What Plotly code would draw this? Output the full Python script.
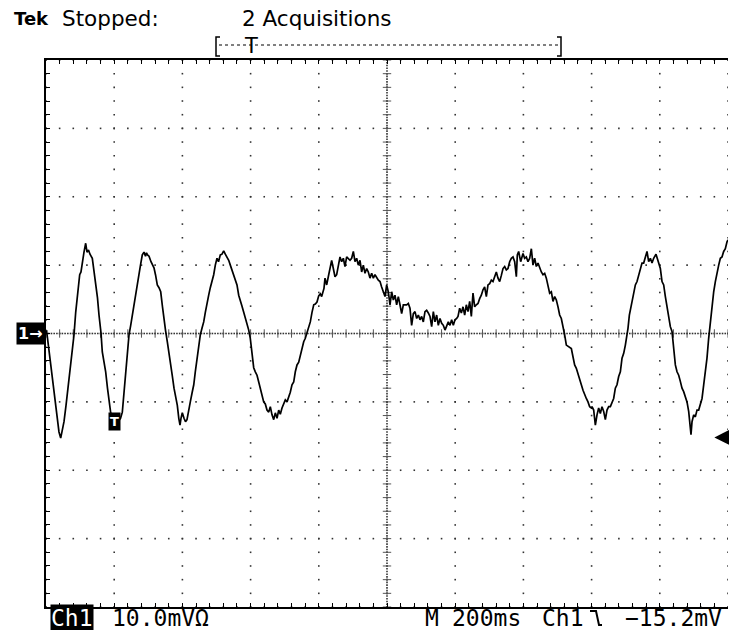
import numpy as np
import plotly.graph_objects as go

# ---- acquired waveform, channel 1 (time in ms relative to trigger, level in mV) ----
t_ms = [
    -198.5, -188.3, -176.5, -167.7, -161.9, -156.9, -151.6, -147.2, -141.3, -135.5,
    -127.6, -122.3, -117.9, -112.9, -108.2, -101.2, -97.4, -93.5, -88.6, -83.6,
    -79.8, -75.4, -71.0, -64.2, -59.2, -54.3, -49.0, -44.6, -38.7, -34.9,
    -29.9, -25.0, -19.7, -15.2, -10.3, -5.0, 2.3, 11.1, 18.5, 23.8,
    28.7, 33.7, 39.0, 43.4, 48.4, 53.1, 58.1, 63.1, 68.3, 72.7,
    77.1, 82.4, 84.5, 87.4, 91.8, 94.7, 97.7, 102.1, 107.9, 116.7,
    121.1, 126.4, 131.4, 136.4, 141.6, 146.0, 150.4, 155.7, 160.7, 165.7,
    170.4, 175.4, 180.4, 185.1, 189.4, 193.0, 195.9, 199.7, 204.7, 209.1,
    213.5, 217.9, 223.2, 228.3, 233.3, 237.8, 242.8, 247.2, 252.5, 257.6,
    262.5, 267.2, 272.2, 277.1, 281.8, 286.8, 291.8, 296.5, 301.5, 305.9,
    311.2, 316.1, 321.1, 325.8, 330.8, 335.8, 340.5, 345.6, 350.5, 355.2,
    360.1, 365.1, 369.8, 374.8, 379.8, 384.5, 389.5, 394.5, 399.1, 404.1,
    409.1, 413.8, 418.8, 423.8, 428.5, 433.4, 438.4, 443.1, 448.1, 453.1,
    457.8, 462.8, 467.8, 472.5, 477.5, 482.4, 487.1, 492.1, 497.1, 501.8,
    506.8, 511.7, 516.4, 521.4, 526.4, 531.1, 536.1, 541.1, 545.8, 550.7,
    555.7, 560.4, 565.4, 570.4, 575.1, 580.1, 585.1, 589.8, 594.7, 599.7,
    604.4,
    608.4, 615.2, 618.2, 623.1, 627.9, 632.8, 637.7, 642.6, 647.5, 652.4,
    657.3, 662.2, 667.0, 671.9, 676.8, 681.7, 691.5, 696.4, 701.3, 706.1,
    711.0, 715.9, 720.8, 725.7, 730.6, 735.5, 740.4, 745.2, 750.1, 755.0,
    759.9, 764.8, 774.6, 779.5, 784.3, 789.2, 794.1, 799.0, 803.9, 808.8,
    813.7, 818.6, 823.4, 828.3, 833.2, 838.1, 843.0, 847.9, 857.7, 862.5,
    867.4, 872.3, 877.2, 882.1, 887.0, 891.9, 896.8, 901.6, 906.5, 911.4,
    916.3, 921.2, 926.1, 931.0, 935.9, 940.7, 945.6, 950.5, 955.4, 960.3,
    965.2, 970.1, 975.0, 979.8, 984.7, 989.6, 994.5, 999.4, 1004.3,
    1008.2, 1013.1, 1018.0, 1022.9, 1027.8, 1032.6, 1037.5, 1042.4, 1047.3, 1052.2,
    1057.1, 1062.0, 1066.9, 1071.7, 1076.6, 1081.5, 1086.4, 1091.3, 1096.2, 1101.1,
    1106.0, 1110.8, 1115.7, 1120.6, 1125.5, 1130.4, 1135.3, 1140.2, 1145.1, 1149.9,
    1154.8, 1159.7, 1164.6, 1169.5, 1174.4, 1179.3, 1182.2, 1186.1, 1192.0, 1198.8,
    1203.7, 1208.6, 1213.5, 1218.4, 1223.3, 1228.1, 1233.0, 1237.9, 1242.8, 1247.7,
    1252.6, 1257.5, 1262.4, 1267.2, 1272.1, 1277.0, 1281.9, 1286.8, 1291.7, 1296.6,
    1301.5, 1306.3, 1311.2, 1316.1, 1321.0, 1325.9, 1330.8, 1340.6, 1345.4, 1350.3,
    1355.2, 1360.1, 1365.0, 1369.9, 1374.8, 1379.7, 1384.5, 1389.4, 1394.3, 1399.2,
    1401.2, 1406.1, 1411.0, 1415.9, 1420.7, 1425.6, 1430.5, 1435.4, 1440.3, 1445.2,
    1450.1, 1455.0, 1459.9, 1464.7, 1469.6, 1474.5, 1479.4, 1484.3, 1489.2, 1494.1,
    1499.0, 1503.8, 1506.8, 1510.7, 1516.5, 1523.4, 1528.3, 1533.2, 1538.1, 1542.9,
    1547.8, 1552.7, 1557.6, 1562.5, 1567.4, 1572.3, 1577.2, 1582.0, 1588.9, 1594.7,
    1601.6, 1606.5, 1611.4, 1616.3, 1621.1, 1626.0, 1630.9, 1635.8, 1640.7, 1645.6,
    1650.5, 1655.4, 1660.2, 1665.1, 1670.0, 1674.9, 1679.8, 1684.7, 1687.6, 1691.5,
    1694.5, 1699.3, 1704.2, 1709.1, 1714.0, 1718.9, 1723.8, 1728.7, 1733.6, 1738.4,
    1743.3, 1748.2, 1753.1, 1758.0, 1762.9, 1767.8, 1772.7, 1777.5, 1782.4, 1787.3,
    1792.2, 1797.1, 1800.0,
]
v_mV = [
    0.5, -3.9, -9.0, -12.6, -14.4, -15.3, -13.8, -12.9, -10.5, -8.0,
    -4.6, -2.4, -0.2, 3.1, 5.6, 8.6, 9.0, 10.5, 11.9, 13.2,
    11.9, 12.2, 11.6, 11.0, 9.3, 7.5, 5.2, 2.7, 0.1, -2.7,
    -4.2, -5.6, -8.0, -10.0, -11.6, -12.6, -13.1, -12.9, -12.4, -11.5,
    -8.6, -5.6, -2.7, -0.2, 1.2, 2.7, 4.3, 6.1, 7.4, 8.6,
    10.0, 11.5, 11.8, 11.9, 11.3, 11.8, 11.5, 11.3, 10.5, 9.6,
    8.6, 7.1, 6.7, 6.1, 3.9, 1.7, 0.5, -1.2, -2.7, -4.6,
    -6.2, -8.0, -9.1, -10.5, -12.4, -13.4, -12.4, -11.6, -12.4, -12.9,
    -12.6, -11.2, -10.0, -8.7, -7.5, -5.6, -3.6, -2.0, -0.2, 0.8,
    1.7, 3.1, 4.6, 5.6, 6.7, 7.5, 8.6, 10.0, 11.0, 10.5,
    11.5, 11.6, 12.1, 11.6, 11.2, 10.7, 10.0, 9.3, 8.6, 8.0,
    7.1, 5.6, 4.6, 4.0, 3.1, 2.3, 1.2, 0.5, -0.7, -2.7,
    -5.0, -5.6, -6.1, -7.1, -8.0, -9.1, -10.0, -10.3, -11.2, -11.5,
    -10.7, -11.9, -12.6, -11.6, -12.4, -11.2, -11.8, -10.9, -10.4, -9.7,
    -10.0, -9.4, -8.6, -7.5, -7.1, -5.6, -4.6, -4.2, -3.1, -2.4,
    -1.2, -0.7, 0.2, 1.1, 1.7, 3.1, 4.2, 4.3, 4.6, 5.5,
    5.8,
    5.4, 6.6, 8.1, 7.1, 8.3, 9.8, 10.7, 9.5, 8.3, 8.6,
    9.8, 11.2, 10.5, 11.0, 9.8, 11.2, 10.7, 11.0, 12.0, 10.5,
    11.0, 10.0, 10.7, 9.0, 10.0, 8.8, 9.5, 9.0, 8.1, 8.8,
    8.1, 8.6, 7.8, 7.6, 6.8, 6.1, 5.4, 7.1, 6.1, 4.2,
    6.1, 4.9, 5.6, 4.2, 5.4, 4.2, 2.9, 4.2, 4.2, 4.4,
    3.7, 1.2, 2.9, 3.2, 2.2, 2.7, 2.0, 2.5, 1.7, 3.2,
    3.4, 3.0, 2.5, 1.0, 3.2, 1.7, 2.7, 1.2, 2.2, 1.5,
    1.2, 0.5, 1.0, 1.7, 1.2, 2.0, 1.2, 2.0, 2.2,
    2.5, 3.7, 3.0, 3.9, 2.7, 4.2, 3.2, 4.7, 2.5, 5.9,
    3.9, 4.2, 4.4, 5.1, 5.6, 6.4, 6.8, 5.4, 7.1, 7.3,
    7.8, 7.6, 8.5, 9.0, 8.1, 7.6, 8.5, 9.5, 9.8, 9.3,
    9.5, 10.5, 11.0, 11.2, 10.5, 8.3, 11.5, 12.0, 10.5, 11.7,
    11.0, 11.2, 10.5, 11.0, 12.4, 10.0, 11.0, 9.8, 10.3, 9.5,
    9.0, 8.6, 8.8, 8.1, 7.1, 5.9, 6.1, 4.7, 5.4, 4.9,
    3.9, 2.7, 2.2, 1.2, -0.2, -1.7, -1.9, -2.2, -3.4, -4.6,
    -5.1, -5.8, -6.6, -7.5, -8.3, -9.0, -9.5, -10.0, -10.7, -10.9,
    -10.7, -11.2, -13.4, -11.9, -10.9, -11.7, -10.7, -11.4, -12.6, -11.2,
    -10.7, -10.7, -10.0, -9.5, -8.0, -7.5, -6.3, -5.6, -3.6, -2.9,
    -1.7, -0.5, 0.8, 2.7, 4.2, 5.9, 7.1, 7.6, 8.6, 9.3,
    10.3, 10.3, 11.2, 12.0, 10.5, 11.0, 10.3, 11.0, 11.6, 10.5,
    9.5, 7.6, 7.1, 5.4, 3.9, 2.2, 1.0, 0.3, -2.2, -4.6,
    -5.6, -6.1, -7.0, -8.0, -8.5, -9.2, -10.0, -11.4, -12.6, -14.8,
    -12.9, -11.9, -12.2, -11.2, -11.2, -10.5, -9.5, -7.5, -5.6, -3.6,
    -0.7, 1.7, 3.7, 6.1, 7.6, 9.0, 10.0, 11.0, 11.2, 12.0,
    12.4, 13.4, 13.7,
]
assert len(t_ms) == len(v_mV)

# ---- scope settings ----
mv_per_div = 10.0
ms_per_div = 200.0
trigger_time = 0.0
trigger_level = -15.2
h_divs, v_divs = 10, 8
x_min = -ms_per_div            # trigger sits one division from the left
x_max = x_min + h_divs * ms_per_div
y_min = -v_divs / 2 * mv_per_div
y_max = v_divs / 2 * mv_per_div
x_mid = (x_min + x_max) / 2
y_mid = 0.0

W, H = 729, 630
ML, MR, MT, MB = 46, 1, 60, 23
PW, PH = W - ML - MR, H - MT - MB


def px(x):
    """pixel column -> paper x"""
    return (x - ML) / PW


def py(y):
    """pixel row -> paper y"""
    return (H - MB - y) / PH


fig = go.Figure()

# ---- graticule: dotted division lines ----
major_x = np.linspace(x_min, x_max, h_divs + 1)
major_y = np.linspace(y_min, y_max, v_divs + 1)
minor_x = np.linspace(x_min, x_max, h_divs * 5 + 1)
minor_y = np.linspace(y_min, y_max, v_divs * 5 + 1)
fine_x = np.linspace(x_min, x_max, h_divs * 25 + 1)
fine_y = np.linspace(y_min, y_max, v_divs * 25 + 1)

gx, gy = [], []
for xv in major_x:
    gx += list(np.full(len(minor_y), xv)); gy += list(minor_y)
for yv in major_y:
    gx += list(minor_x); gy += list(np.full(len(minor_x), yv))
# centre crosshair: finer dotting
gx += list(np.full(len(fine_y), x_mid)); gy += list(fine_y)
gx += list(fine_x); gy += list(np.full(len(fine_x), y_mid))

fig.add_trace(go.Scatter(
    x=gx, y=gy, mode="markers", hoverinfo="skip", showlegend=False,
    marker=dict(symbol="square", size=1.6, color="#333333", line=dict(width=0)),
))
# crosshair minor ticks
fig.add_trace(go.Scatter(
    x=list(minor_x), y=[y_mid] * len(minor_x), mode="markers", hoverinfo="skip",
    showlegend=False,
    marker=dict(symbol="line-ns", size=6, line=dict(width=1, color="#555555")),
))
fig.add_trace(go.Scatter(
    x=[x_mid] * len(minor_y), y=list(minor_y), mode="markers", hoverinfo="skip",
    showlegend=False,
    marker=dict(symbol="line-ew", size=6, line=dict(width=1, color="#555555")),
))

# ---- channel 1 trace ----
fig.add_trace(go.Scatter(
    x=t_ms, y=v_mV, mode="lines", showlegend=False,
    line=dict(color="black", width=1.7),
))

mono = "DejaVu Sans Mono"
sans = "DejaVu Sans"
ann = []

# header
ann.append(dict(text="<b>Tek</b>", x=px(12), y=py(18), xref="paper", yref="paper",
                xanchor="left", yanchor="middle", showarrow=False,
                font=dict(family=sans, size=18, color="black")))
ann.append(dict(text="Stopped:", x=px(60), y=py(18), xref="paper", yref="paper",
                xanchor="left", yanchor="middle", showarrow=False,
                font=dict(family=sans, size=21.5, color="black")))
ann.append(dict(text="2 Acquisitions", x=px(240), y=py(18), xref="paper", yref="paper",
                xanchor="left", yanchor="middle", showarrow=False,
                font=dict(family=sans, size=21.5, color="black")))
ann.append(dict(text="T", x=px(250.5), y=py(46), xref="paper", yref="paper",
                xanchor="center", yanchor="middle", showarrow=False,
                font=dict(family=sans, size=21, color="black")))

# channel ground marker
ann.append(dict(text="<b>1→</b>", x=px(16), y=y_mid, xref="paper", yref="y",
                xanchor="left", yanchor="middle", showarrow=False, bgcolor="black",
                borderpad=1, font=dict(family=sans, size=16, color="white")))
# trigger point marker on the trace
ann.append(dict(text="<b>T</b>", x=trigger_time, y=-12.9, xref="x", yref="y",
                xanchor="center", yanchor="middle", showarrow=False, bgcolor="black",
                borderpad=1, font=dict(family=sans, size=13, color="white")))
# trigger level arrow on the right edge
ann.append(dict(text="", x=x_max - 0.2 * ms_per_div, y=trigger_level,
                ax=x_max + 0.02 * ms_per_div, ay=trigger_level,
                xref="x", yref="y", axref="x", ayref="y",
                showarrow=True, arrowhead=2, arrowsize=1.5, arrowwidth=2,
                arrowcolor="black"))

# footer readouts
ann.append(dict(text="Ch1", x=px(50), y=py(618), xref="paper", yref="paper",
                xanchor="left", yanchor="middle", showarrow=False, bgcolor="black",
                borderpad=0, font=dict(family=mono, size=23, color="white")))
ann.append(dict(text=f"{mv_per_div:.1f}mVΩ", x=px(110), y=py(618), xref="paper",
                yref="paper", xanchor="left", yanchor="middle", showarrow=False,
                font=dict(family=mono, size=23, color="black")))
ann.append(dict(text="M", x=px(423), y=py(618), xref="paper", yref="paper",
                xanchor="left", yanchor="middle", showarrow=False,
                font=dict(family=mono, size=23, color="black")))
ann.append(dict(text=f"{ms_per_div:.0f}ms", x=px(450), y=py(618), xref="paper",
                yref="paper", xanchor="left", yanchor="middle", showarrow=False,
                font=dict(family=mono, size=23, color="black")))
ann.append(dict(text="Ch1", x=px(540), y=py(618), xref="paper", yref="paper",
                xanchor="left", yanchor="middle", showarrow=False,
                font=dict(family=mono, size=23, color="black")))
ann.append(dict(text=f"\u2212{abs(trigger_level):.1f}mV", x=px(623), y=py(618),
                xref="paper", yref="paper", xanchor="left", yanchor="middle",
                showarrow=False, font=dict(family=mono, size=23, color="black")))

shapes = []
# record-position bracket
br_y0, br_y1, br_mid = 37, 56, 45
for xb, stub in ((216, 4), (561, -4)):
    shapes.append(dict(type="path", xref="paper", yref="paper",
                       path=f"M {px(xb + stub)},{py(br_y0)} L {px(xb)},{py(br_y0)} "
                            f"L {px(xb)},{py(br_y1)} L {px(xb + stub)},{py(br_y1)}",
                       line=dict(color="black", width=1.5)))
shapes.append(dict(type="line", xref="paper", yref="paper",
                   x0=px(219), x1=px(558), y0=py(br_mid), y1=py(br_mid),
                   line=dict(color="black", width=1, dash="dot")))
# falling-edge trigger slope glyph
shapes.append(dict(type="path", xref="paper", yref="paper",
                   path=f"M {px(590)},{py(611)} L {px(596)},{py(611)} "
                        f"L {px(599)},{py(625)} L {px(602)},{py(625)}",
                   line=dict(color="black", width=2)))

fig.update_layout(
    width=W, height=H,
    margin=dict(l=ML, r=MR, t=MT, b=MB, pad=0),
    paper_bgcolor="white", plot_bgcolor="white",
    annotations=ann, shapes=shapes,
    xaxis=dict(range=[x_min, x_max], showgrid=False, zeroline=False,
               showline=True, linecolor="black", linewidth=1.5, mirror="ticks",
               ticks="inside", tick0=x_min, dtick=ms_per_div / 5, ticklen=4,
               tickcolor="black", tickwidth=1, showticklabels=False, fixedrange=True),
    yaxis=dict(range=[y_min, y_max], showgrid=False, zeroline=False,
               showline=True, linecolor="black", linewidth=1.5, mirror=False,
               ticks="inside", tick0=y_min, dtick=mv_per_div / 5, ticklen=4,
               tickcolor="black", tickwidth=1, showticklabels=False, fixedrange=True),
)

fig.write_html("out.html")
